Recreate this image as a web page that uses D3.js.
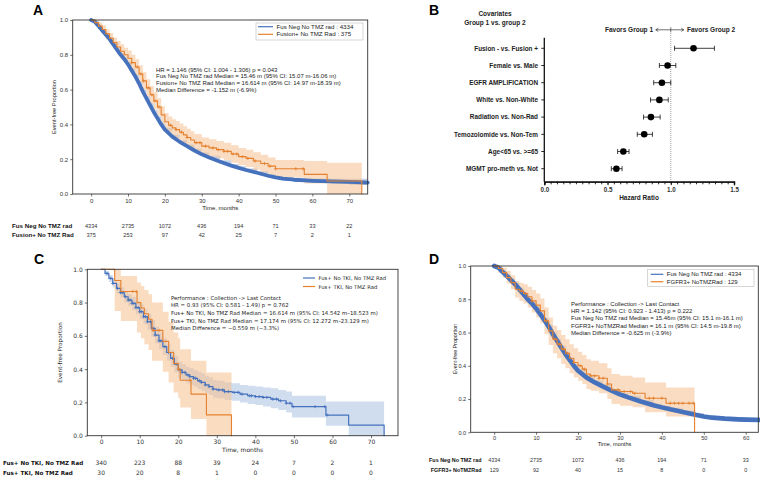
<!DOCTYPE html>
<html>
<head>
<meta charset="utf-8">
<script src="https://cdn.jsdelivr.net/npm/d3@7"></script>
<style>body{margin:0;background:#fff}</style>
</head>
<body>
<div id="fig"></div>
<script>
// ---------- DATA ----------
// Fus Neg No TMZ rad (n=4334), shared by panels A and D
const negTime = [0, 1, 2, 3, 4, 5, 6, 7, 8, 9, 10, 11, 12, 13, 14, 15, 16, 17, 18, 19, 20, 22, 24, 26, 28, 30, 32, 35, 38, 40, 42, 45, 48, 50, 52, 55, 58, 60, 65, 70, 75];
const negSurv = [1, .99, .965, .94, .915, .89, .86, .83, .8, .775, .745, .71, .675, .635, .59, .55, .51, .47, .435, .4, .37, .33, .3, .275, .25, .228, .21, .185, .163, .15, .138, .122, .105, .095, .088, .082, .078, .076, .073, .07, .065];
const negLo = [1, .985, .958, .932, .906, .88, .85, .82, .789, .763, .733, .698, .663, .623, .578, .538, .498, .458, .423, .389, .359, .319, .289, .265, .24, .218, .2, .176, .154, .141, .129, .113, .096, .086, .078, .071, .066, .063, .058, .052, .045];
const negHi = [1, .995, .972, .948, .924, .9, .87, .84, .811, .787, .757, .722, .687, .647, .602, .562, .522, .482, .447, .411, .381, .341, .311, .285, .26, .238, .22, .194, .172, .159, .147, .131, .114, .104, .098, .093, .09, .089, .088, .088, .085];
const negCensorA = [46, 48, 50, 51, 52, 53, 54, 55, 56, 57, 58, 59, 60, 61, 62, 63, 64, 66, 67, 68, 69, 70, 72, 73, 74, 75];
const negCensorD = [47, 48, 49, 50, 51, 52, 53, 54, 55, 56, 57, 58, 59, 60, 61, 62];

// Fusion+ No TMZ Rad (n=375), panel A
const fusTime = [0, 1, 2, 3, 4, 5, 6, 7, 8, 9, 10, 11, 12, 13, 14, 15, 16, 17, 18, 19, 20, 21, 22, 23, 24, 25, 26, 27, 28, 30, 32, 34, 36, 38, 40, 42, 44, 46, 48, 50, 57.8, 64, 73.4];
const fusSurv = [1, .985, .965, .945, .92, .895, .87, .845, .82, .8, .78, .755, .73, .69, .65, .61, .57, .535, .5, .455, .415, .395, .38, .37, .355, .34, .325, .31, .295, .275, .265, .255, .245, .23, .215, .205, .19, .175, .16, .145, .113, .075, 0];
const fusLo = [1, .97, .945, .92, .89, .86, .835, .805, .78, .755, .735, .71, .68, .64, .6, .56, .52, .485, .45, .405, .365, .345, .33, .32, .305, .29, .275, .26, .245, .225, .215, .205, .195, .18, .165, .155, .14, .125, .11, .095, .06, 0, 0];
const fusHi = [1, .995, .985, .97, .945, .925, .9, .88, .86, .84, .825, .8, .775, .74, .7, .66, .62, .585, .55, .505, .465, .445, .43, .42, .405, .39, .375, .36, .345, .325, .315, .305, .295, .28, .265, .255, .24, .225, .21, .195, .19, .18, .18];
const fusCensor = [11, 12.5, 13.5, 14.2, 15.5, 16.5, 17.3, 18.4, 21.5, 23, 24.5, 26, 28.5, 29.5, 31, 33, 34.5, 36, 37, 38.5, 39.5, 41, 42.5, 44.5, 47, 48.5, 50, 55.5, 57.5];

// Fus+ No TKI, No TMZ Rad (n=340), panel C
const cbTime = [0, 1, 2, 3, 4, 5, 6, 7, 8, 9, 10, 11, 12, 13, 14, 15, 16, 17, 18, 19, 20, 21, 22, 23, 24, 25, 26, 27, 28, 29, 30, 32, 34, 36, 38, 40, 42, 44, 46, 48, 49.5, 58.3, 64.2, 73.4];
const cbSurv = [1, .975, .945, .915, .885, .86, .835, .815, .795, .77, .745, .715, .685, .645, .605, .57, .535, .5, .465, .43, .395, .38, .365, .355, .345, .33, .32, .305, .295, .28, .275, .265, .26, .25, .24, .235, .23, .22, .21, .195, .175, .124, .064, 0];
const cbLo = [1, .96, .925, .89, .855, .83, .8, .78, .755, .73, .7, .67, .635, .595, .555, .52, .485, .45, .415, .38, .345, .33, .315, .305, .295, .28, .27, .255, .245, .23, .225, .215, .21, .2, .19, .185, .175, .165, .155, .14, .11, .06, 0, 0];
const cbHi = [1, .99, .965, .94, .915, .89, .87, .85, .835, .81, .79, .76, .735, .695, .655, .62, .585, .55, .515, .48, .445, .43, .415, .405, .395, .385, .375, .36, .35, .335, .33, .32, .315, .305, .3, .295, .29, .285, .275, .265, .24, .205, .205, .205];
const cbCensor = [1.5, 2.5, 3, 4.2, 5, 5.5, 6.3, 7, 7.5, 8, 8.5, 9, 9.6, 10, 10.5, 11, 11.5, 12, 12.8, 13.5, 14, 15, 15.5, 16.5, 17.5, 18.5, 19.5, 20.5, 21, 21.7, 22.5, 23, 24, 24.5, 25.5, 26, 27, 28, 29, 30.5, 31.5, 32, 33, 34.5, 35.5, 36.5, 38.5, 39, 40, 41, 42, 43, 44.5, 45.5, 46.5, 48, 49, 49.8, 55.5, 58, 58.6];

// Fus+ TKI, No TMZ Rad (n=30), panel C
const coTime = [0, 3.5, 5.1, 9.3, 10.3, 11.2, 12.3, 13.2, 16, 17.5, 18.8, 20, 20.5, 23.3, 27.3, 33.8];
const coSurv = [1, .933, .867, .8, .767, .733, .7, .633, .567, .5, .433, .4, .333, .25, .125, 0];
const coLo = [1, .75, .69, .62, .585, .55, .515, .45, .385, .32, .26, .225, .17, .1, 0, 0];
const coHi = [1, 1, .96, .92, .9, .875, .85, .8, .745, .685, .62, .585, .52, .45, .38, .38];
const coCensor = [8.2, 9.1, 13.5, 15, 20, 23.1];

// FGFR3+ NoTMZRad (n=129), panel D
const doTime = [0, 1, 2, 3, 4, 5, 6, 7, 8, 9, 10, 11, 12, 13, 14, 15, 16, 17, 18, 19, 20, 21, 22, 23, 25, 27, 28, 30, 33, 36, 41, 47.8];
const doSurv = [1, .985, .96, .93, .9, .86, .85, .835, .815, .79, .765, .73, .67, .61, .56, .53, .5, .475, .445, .42, .4, .38, .35, .34, .325, .29, .255, .245, .235, .205, .175, 0];
const doLo = [1, .96, .93, .895, .86, .81, .79, .775, .75, .72, .69, .655, .59, .525, .475, .445, .41, .385, .355, .33, .31, .29, .26, .25, .235, .2, .17, .16, .15, .12, .095, 0];
const doHi = [1, 1, .99, .97, .945, .91, .9, .89, .875, .855, .835, .805, .75, .69, .64, .615, .585, .56, .53, .505, .485, .465, .44, .43, .415, .385, .35, .34, .33, .3, .27, .27];
const doCensor = [6.5, 7.5, 9, 12.5, 14.5, 15.5, 16.5, 17.5, 19, 20.5, 21.5, 23, 24, 25, 26, 27, 29.5, 31, 32.5, 33.5, 37, 38, 40, 42, 43, 44, 45, 46.5, 47.5];

// risk tables
const ticksA = [0, 10, 20, 30, 40, 50, 60, 70];
const riskA = [["Fus Neg No TMZ rad", [4334, 2735, 1072, 436, 194, 71, 33, 22]],
               ["Fusion+ No TMZ Rad", [375, 253, 97, 42, 25, 7, 2, 1]]];
const ticksC = [0, 10, 20, 30, 40, 50, 60, 70];
const riskC = [["Fus+ No TKI, No TMZ Rad", [340, 223, 88, 39, 24, 7, 2, 1]],
               ["Fus+ TKI, No TMZ Rad", [30, 20, 8, 1, 0, 0, 0, 0]]];
const ticksD = [0, 10, 20, 30, 40, 50, 60];
const riskD = [["Fus Neg No TMZ rad", [4334, 2735, 1072, 436, 194, 71, 33]],
               ["FGFR3+ NoTMZRad", [129, 92, 40, 15, 8, 0, 0]]];

// annotations
const noteA = ["HR = 1.146 (95% CI: 1.004 - 1.306) p = 0.043",
  "Fus Neg No TMZ rad Median = 15.46 m (95% CI: 15.07 m-16.06 m)",
  "Fusion+ No TMZ Rad Median = 16.614 m (95% CI: 14.97 m-18.39 m)",
  "Median Difference = -1.152 m (-6.9%)"];
const noteC = ["Performance : Collection -> Last Contact",
  "HR = 0.93 (95% CI: 0.581 - 1.49) p = 0.762",
  "Fus+ No TKI, No TMZ Rad Median = 16.614 m (95% CI: 14.542 m\u201318.523 m)",
  "Fus+ TKI, No TMZ Rad Median = 17.174 m (95% CI: 12.272 m\u201323.129 m)",
  "Median Difference = \u22120.559 m (\u22123.3%)"];
const noteD = ["Performance : Collection -> Last Contact",
  "HR = 1.142 (95% CI: 0.923 - 1.413) p = 0.222",
  "Fus Neg No TMZ rad Median = 15.46m (95% CI: 15.1 m-16.1 m)",
  "FGFR3+ NoTMZRad Median = 16.1 m (95% CI: 14.5 m-19.8 m)",
  "Median Difference = -0.625 m (-3.9%)"];

// forest plot (panel B)
const covariates = ["Fusion - vs. Fusion +", "Female vs. Male", "EGFR AMPLIFICATION", "White vs. Non-White",
  "Radiation vs. Non-Rad", "Temozolomide vs. Non-Tem", "Age<65 vs. >=65", "MGMT pro-meth vs. Not"];
const hr = [1.18, 0.975, 0.93, 0.91, 0.843, 0.79, 0.625, 0.57];
const hrLo = [1.03, 0.91, 0.865, 0.84, 0.785, 0.735, 0.58, 0.53];
const hrHi = [1.345, 1.04, 1.0, 0.98, 0.916, 0.855, 0.67, 0.615];

// ---------- DRAWING ----------
const BLUE = "#4672bd", ORANGE = "#e5812f";
const svg = d3.select("#fig").append("svg").attr("width", 760).attr("height", 480);

function stepValue(times, surv, t) {
  let v = surv[0];
  times.forEach((tt, i) => { if (tt <= t) v = surv[i]; });
  return v;
}

function drawKM(c) {
  const g = svg.append("g").attr("font-family", c.font).attr("fill", "#222");
  const x = d3.scaleLinear().domain(c.xDomain).range([c.left, c.right]);
  const y = d3.scaleLinear().domain([0, 1]).range([c.bottom, c.top]);

  // confidence bands first
  c.curves.forEach(k => {
    const rows = k.time.map((t, i) => ({t: t, lo: k.lo[i], hi: k.hi[i]}));
    g.append("path").datum(rows)
      .attr("fill", k.band).attr("fill-opacity", k.bandOpacity)
      .attr("d", d3.area().curve(d3.curveStepAfter).x(d => x(d.t)).y0(d => y(d.lo)).y1(d => y(d.hi)));
  });
  // survival lines + censor marks
  c.curves.forEach(k => {
    const rows = k.time.map((t, i) => ({t: t, s: k.surv[i]}));
    g.append("path").datum(rows)
      .attr("fill", "none").attr("stroke", k.color).attr("stroke-width", k.width)
      .attr("stroke-linejoin", "round").attr("stroke-linecap", "round")
      .attr("d", d3.line().curve(k.step ? d3.curveStepAfter : d3.curveLinear).x(d => x(d.t)).y(d => y(d.s)));
    // survival at a censor time: step value, or piecewise-linear for the smooth big cohort
    const sAt = k.step ? (t => stepValue(k.time, k.surv, t))
                       : d3.scaleLinear().domain(k.time).range(k.surv);
    const cs = k.censor.filter(t => t <= c.xDomain[1]);
    g.selectAll(null).data(cs).join("path")
      .attr("fill", "none").attr("stroke", k.color).attr("stroke-width", 0.8)
      .attr("d", t => {
        const px = x(t), py = y(sAt(t));
        return `M${px - 1.6},${py}h3.2M${px},${py - 1.6}v3.2`;
      });
  });

  // frame
  g.append("rect").attr("x", c.left).attr("y", c.top)
    .attr("width", c.right - c.left).attr("height", c.bottom - c.top)
    .attr("fill", "none").attr("stroke", "#333").attr("stroke-width", 0.9);

  // axes
  const xa = g.append("g").attr("transform", `translate(0,${c.bottom})`)
    .call(d3.axisBottom(x).tickValues(c.ticks).tickSize(2.5).tickPadding(c.xPad).tickFormat(d3.format("d")));
  const ya = g.append("g").attr("transform", `translate(${c.left},0)`)
    .call(d3.axisLeft(y).tickValues([0, .2, .4, .6, .8, 1]).tickSize(2.5).tickPadding(2).tickFormat(d3.format(".1f")));
  [xa, ya].forEach(a => {
    a.select(".domain").remove();
    a.selectAll("text").attr("font-size", c.tickFont).attr("font-family", c.font).attr("fill", "#333");
    a.selectAll("line").attr("stroke", "#333").attr("stroke-width", 0.7);
  });

  g.append("text").attr("x", (c.left + c.right) / 2).attr("y", c.xTitleY)
    .attr("text-anchor", "middle").attr("font-size", c.tickFont).text("Time, months");
  g.append("text").attr("transform", `translate(${c.yTitleX},${(c.top + c.bottom) / 2}) rotate(-90)`)
    .attr("text-anchor", "middle").attr("font-size", c.tickFont - 0.3).text("Event-free Proportion");

  // panel letter
  g.append("text").attr("x", c.letterX).attr("y", c.letterY).attr("font-family", "Liberation Sans, Arial")
    .attr("font-weight", "bold").attr("font-size", 14).attr("fill", "#000").text(c.letter);

  // annotation
  g.selectAll(null).data(c.note).join("text")
    .attr("x", c.noteX).attr("y", (d, i) => c.noteY + i * c.noteDy)
    .attr("font-size", c.noteFont).text(d => d);

  // legend
  const lg = g.append("g");
  if (c.legendBox) {
    lg.append("rect").attr("x", c.legendBox[0]).attr("y", c.legendBox[1])
      .attr("width", c.legendBox[2]).attr("height", c.legendBox[3])
      .attr("fill", "#fff").attr("stroke", "#bbb").attr("stroke-width", 0.6);
  }
  c.curves.forEach((k, i) => {
    const ly = c.legendY + i * c.legendDy;
    lg.append("line").attr("x1", c.legendX).attr("x2", c.legendX + c.legendLine)
      .attr("y1", ly).attr("y2", ly).attr("stroke", k.color).attr("stroke-width", 1.2);
    lg.append("text").attr("x", c.legendX + c.legendLine + 3.5).attr("y", ly + 2)
      .attr("font-size", c.legendFont).text(k.label);
  });

  // risk table
  c.risk.forEach((r, i) => {
    const ry = c.riskY + i * c.riskDy;
    g.append("text").attr("x", c.riskLabelX).attr("y", ry).attr("text-anchor", c.riskAnchor)
      .attr("font-weight", "bold").attr("font-size", c.riskFont).attr("fill", "#111").text(r[0]);
    g.selectAll(null).data(r[1]).join("text")
      .attr("x", (d, j) => x(c.ticks[j])).attr("y", ry).attr("text-anchor", "middle")
      .attr("font-size", c.riskNumFont).attr("fill", "#333").text(d => d);
  });
}

// Panel A
drawKM({
  font: "Liberation Sans, Arial, sans-serif", letter: "A", letterX: 33, letterY: 15,
  left: 72.7, right: 367.7, top: 20, bottom: 194, xDomain: [-5, 75], ticks: ticksA,
  tickFont: 6, xPad: 2, xTitleY: 209.5, yTitleX: 56,
  curves: [
    {label: "Fus Neg No TMZ rad : 4334", time: negTime, surv: negSurv, lo: negLo, hi: negHi, censor: negCensorA,
     color: BLUE, width: 3.8, step: false, band: "#8ea6c8", bandOpacity: 0.5},
    {label: "Fusion+ No TMZ Rad : 375", time: fusTime, surv: fusSurv, lo: fusLo, hi: fusHi, censor: fusCensor,
     color: ORANGE, width: 1.1, step: true, band: "#f5c59a", bandOpacity: 0.6}
  ],
  note: noteA, noteX: 156, noteY: 71.5, noteDy: 6.9, noteFont: 6,
  legendBox: [256, 23, 107, 17], legendX: 258, legendY: 26.7, legendDy: 7.6, legendLine: 15, legendFont: 6.2,
  risk: riskA, riskY: 227.5, riskDy: 9, riskLabelX: 12, riskAnchor: "start", riskFont: 6.2, riskNumFont: 5.6
});

// Panel C
drawKM({
  font: "DejaVu Sans, sans-serif", letter: "C", letterX: 34, letterY: 264,
  left: 87.3, right: 398, top: 269.3, bottom: 435.7, xDomain: [-3.6, 77], ticks: ticksC,
  tickFont: 6, xPad: 1.5, xTitleY: 452, yTitleX: 62,
  curves: [
    {label: "Fus+ No TKI, No TMZ Rad", time: cbTime, surv: cbSurv, lo: cbLo, hi: cbHi, censor: cbCensor,
     color: BLUE, width: 1.2, step: true, band: "#a9c1e2", bandOpacity: 0.55},
    {label: "Fus+ TKI, No TMZ Rad", time: coTime, surv: coSurv, lo: coLo, hi: coHi, censor: coCensor,
     color: ORANGE, width: 1.1, step: true, band: "#f6c08e", bandOpacity: 0.55}
  ],
  note: noteC, noteX: 171, noteY: 299.8, noteDy: 7.6, noteFont: 5.4,
  legendBox: null, legendX: 303, legendY: 278, legendDy: 8.5, legendLine: 12, legendFont: 5.3,
  risk: riskC, riskY: 465, riskDy: 9.5, riskLabelX: 3, riskAnchor: "start", riskFont: 5.6, riskNumFont: 6
});

// Panel D
drawKM({
  font: "Liberation Sans, Arial, sans-serif", letter: "D", letterX: 429, letterY: 264,
  left: 470.7, right: 758.3, top: 266, bottom: 432.3, xDomain: [-5.6, 63], ticks: ticksD,
  tickFont: 5.6, xPad: 1.5, xTitleY: 445.5, yTitleX: 457,
  curves: [
    {label: "Fus Neg No TMZ rad : 4334", time: negTime, surv: negSurv, lo: negLo, hi: negHi, censor: negCensorD,
     color: BLUE, width: 4.6, step: false, band: "#8ea6c8", bandOpacity: 0.5},
    {label: "FGFR3+ NoTMZRad : 129", time: doTime, surv: doSurv, lo: doLo, hi: doHi, censor: doCensor,
     color: ORANGE, width: 1.1, step: true, band: "#f5c59a", bandOpacity: 0.6}
  ],
  note: noteD, noteX: 571, noteY: 305.5, noteDy: 7.4, noteFont: 6,
  legendBox: [647.7, 269.3, 106.3, 17.4], legendX: 650.7, legendY: 274.3, legendDy: 7.4, legendLine: 12.6, legendFont: 6,
  risk: riskD, riskY: 462, riskDy: 10, riskLabelX: 481.5, riskAnchor: "end", riskFont: 5.4, riskNumFont: 5.4
});

// Panel B: forest plot
(function () {
  const g = svg.append("g").attr("font-family", "Liberation Sans, Arial, sans-serif").attr("fill", "#222");
  const x = d3.scaleLinear().domain([0, 1.5]).range([544.3, 734]);
  const y = d3.scalePoint().domain(covariates).range([48.3, 168.7]);
  const axisY = 181.7, axisTop = 37.7;

  g.append("text").attr("x", 429).attr("y", 15).attr("font-weight", "bold").attr("font-size", 14).attr("fill", "#000").text("B");
  g.append("text").attr("x", 495).attr("y", 16).attr("text-anchor", "middle").attr("font-weight", "bold").attr("font-size", 6.5).text("Covariates");
  g.append("text").attr("x", 495).attr("y", 24.5).attr("text-anchor", "middle").attr("font-weight", "bold").attr("font-size", 6.5).text("Group 1 vs. group 2");

  // favors header
  g.append("text").attr("x", 653).attr("y", 32).attr("text-anchor", "end").attr("font-weight", "bold").attr("font-size", 6.5).text("Favors Group 1");
  g.append("text").attr("x", 687).attr("y", 32).attr("font-weight", "bold").attr("font-size", 6.5).text("Favors Group 2");
  g.append("path").attr("fill", "none").attr("stroke", "#333").attr("stroke-width", 0.7)
    .attr("d", `M${x(1) - 15},29.8H${x(1) + 13}M${x(1) - 12.5},28.2L${x(1) - 15},29.8L${x(1) - 12.5},31.4` +
      `M${x(1) + 10.5},28.2L${x(1) + 13},29.8L${x(1) + 10.5},31.4M${x(1)},27.3V32.3`);

  // reference line
  g.append("line").attr("x1", x(1)).attr("x2", x(1)).attr("y1", 33).attr("y2", axisY)
    .attr("stroke", "#777").attr("stroke-width", 0.7).attr("stroke-dasharray", "1,1");

  // axes
  const minor = g.append("g").attr("transform", `translate(0,${axisY})`)
    .call(d3.axisBottom(x).tickValues(d3.range(0, 1.5001, 0.05)).tickSize(2.6).tickFormat(""));
  const major = g.append("g").attr("transform", `translate(0,${axisY})`)
    .call(d3.axisBottom(x).tickValues([0, 0.5, 1, 1.5]).tickSize(3.5).tickPadding(2.5).tickFormat(d3.format(".1f")));
  [minor, major].forEach(a => {
    a.select(".domain").attr("stroke", "#111").attr("stroke-width", 1.3);
    a.selectAll("line").attr("stroke", "#111").attr("stroke-width", 0.9);
    a.selectAll("text").attr("font-size", 6.3).attr("font-weight", "bold").attr("font-family", "Liberation Sans, Arial").attr("fill", "#333");
  });
  g.append("line").attr("x1", x(0)).attr("x2", x(0)).attr("y1", axisTop).attr("y2", axisY)
    .attr("stroke", "#111").attr("stroke-width", 1.3);
  g.append("text").attr("x", 639).attr("y", 200).attr("text-anchor", "middle").attr("font-weight", "bold").attr("font-size", 6.5).text("Hazard Ratio");

  // rows
  covariates.forEach((c, i) => {
    const yy = y(c);
    g.append("line").attr("x1", x(0) - 3).attr("x2", x(0)).attr("y1", yy).attr("y2", yy).attr("stroke", "#111").attr("stroke-width", 0.9);
    g.append("text").attr("x", 538).attr("y", yy + 2.2).attr("text-anchor", "end")
      .attr("font-weight", "bold").attr("font-size", 6.4).text(c);
    g.append("path").attr("fill", "none").attr("stroke", "#111").attr("stroke-width", 0.8)
      .attr("d", `M${x(hrLo[i])},${yy}H${x(hrHi[i])}M${x(hrLo[i])},${yy - 2.5}v5M${x(hrHi[i])},${yy - 2.5}v5`);
    g.append("circle").attr("cx", x(hr[i])).attr("cy", yy).attr("r", 3.3).attr("fill", "#000");
  });
})();
</script>
</body>
</html>
